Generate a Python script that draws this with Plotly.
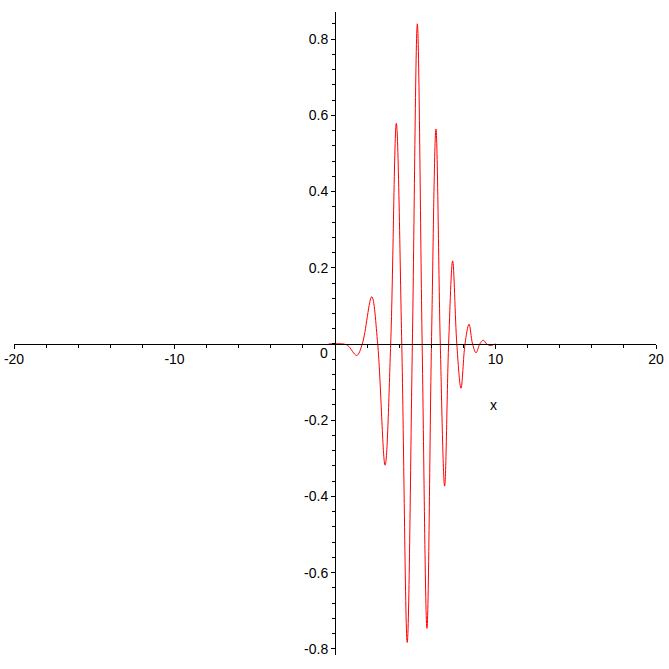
import plotly.graph_objects as go

# key points of the curve (extrema and zero crossings)
curve_x = [-0.4, 0.5, 0.8, 1.35, 1.70, 2.29, 2.66, 3.12, 3.47, 3.82, 4.16, 4.50, 4.82,
           5.13, 5.43, 5.73, 6.01, 6.29, 6.56, 6.83, 7.08, 7.33, 7.59, 7.85, 8.10,
           8.35, 8.57, 8.79, 9.02, 9.24, 9.45, 9.65, 10.0]
curve_y = [0.0, 0.0, -0.004, -0.030, 0.0, 0.124, 0.0, -0.318, 0.0, 0.579, 0.0, -0.783, 0.0,
           0.840, 0.0, -0.746, 0.0, 0.564, 0.0, -0.373, 0.0, 0.218, 0.0, -0.116, 0.0,
           0.052, 0.0, -0.023, 0.0, 0.010, 0.0, -0.004, 0.0]

x_tickvals = [-20, -10, 10, 20]
x_ticktext = ["-20", "-10", "10", "20"]
y_tickvals = [-0.8, -0.6, -0.4, -0.2, 0.2, 0.4, 0.6, 0.8]
y_ticktext = ["-0.8", "-0.6", "-0.4", "-0.2", "0.2", "0.4", "0.6", "0.8"]

x_range = [-20, 20]
y_range = [-0.816, 0.871]

font = dict(family="Liberation Sans, Arial, sans-serif", size=14, color="black")

fig = go.Figure()
fig.add_trace(go.Scatter(x=curve_x, y=curve_y, mode="lines",
                         line=dict(color="#ff0000", width=1, shape="spline", smoothing=1.0),
                         hoverinfo="skip", showlegend=False))

x_pos = (0 - y_range[0]) / (y_range[1] - y_range[0])
y_pos = (0 - x_range[0]) / (x_range[1] - x_range[0])

fig.update_layout(
    width=669, height=669,
    margin=dict(l=14, r=13, t=12, b=14, autoexpand=False),
    paper_bgcolor="white", plot_bgcolor="white",
    font=font,
    showlegend=False,
    hovermode=False,
    xaxis=dict(range=x_range, anchor="free", position=x_pos, showgrid=False, zeroline=False,
               automargin=False,
               showline=True, linecolor="black", linewidth=1,
               ticks="outside", ticklen=4, tickcolor="black", tickwidth=1,
               ticklabelstandoff=-2,
               tickmode="array", tickvals=x_tickvals, ticktext=x_ticktext,
               minor=dict(ticks="outside", ticklen=3, tickcolor="black", dtick=2, tick0=0,
                          showgrid=False),
               tickfont=font),
    yaxis=dict(range=y_range, anchor="free", position=y_pos, showgrid=False, zeroline=False,
               automargin=False,
               showline=True, linecolor="black", linewidth=1,
               ticks="outside", ticklen=4, tickcolor="black", tickwidth=1,
               tickmode="array", tickvals=y_tickvals, ticktext=y_ticktext,
               minor=dict(ticks="outside", ticklen=3, tickcolor="black", dtick=0.04, tick0=0,
                          showgrid=False),
               tickfont=font),
    annotations=[
        dict(x=0, y=0, xref="x", yref="y", text="0", showarrow=False, font=font,
             xanchor="right", yanchor="top", xshift=-5, yshift=1),
        dict(x=9.9, y=-0.16, xref="x", yref="y", text="x", showarrow=False, font=font),
    ],
)

fig.write_html("out.html",
               config={"displayModeBar": False},
               post_script="document.body.style.margin='0';document.body.style.overflow='hidden';")
